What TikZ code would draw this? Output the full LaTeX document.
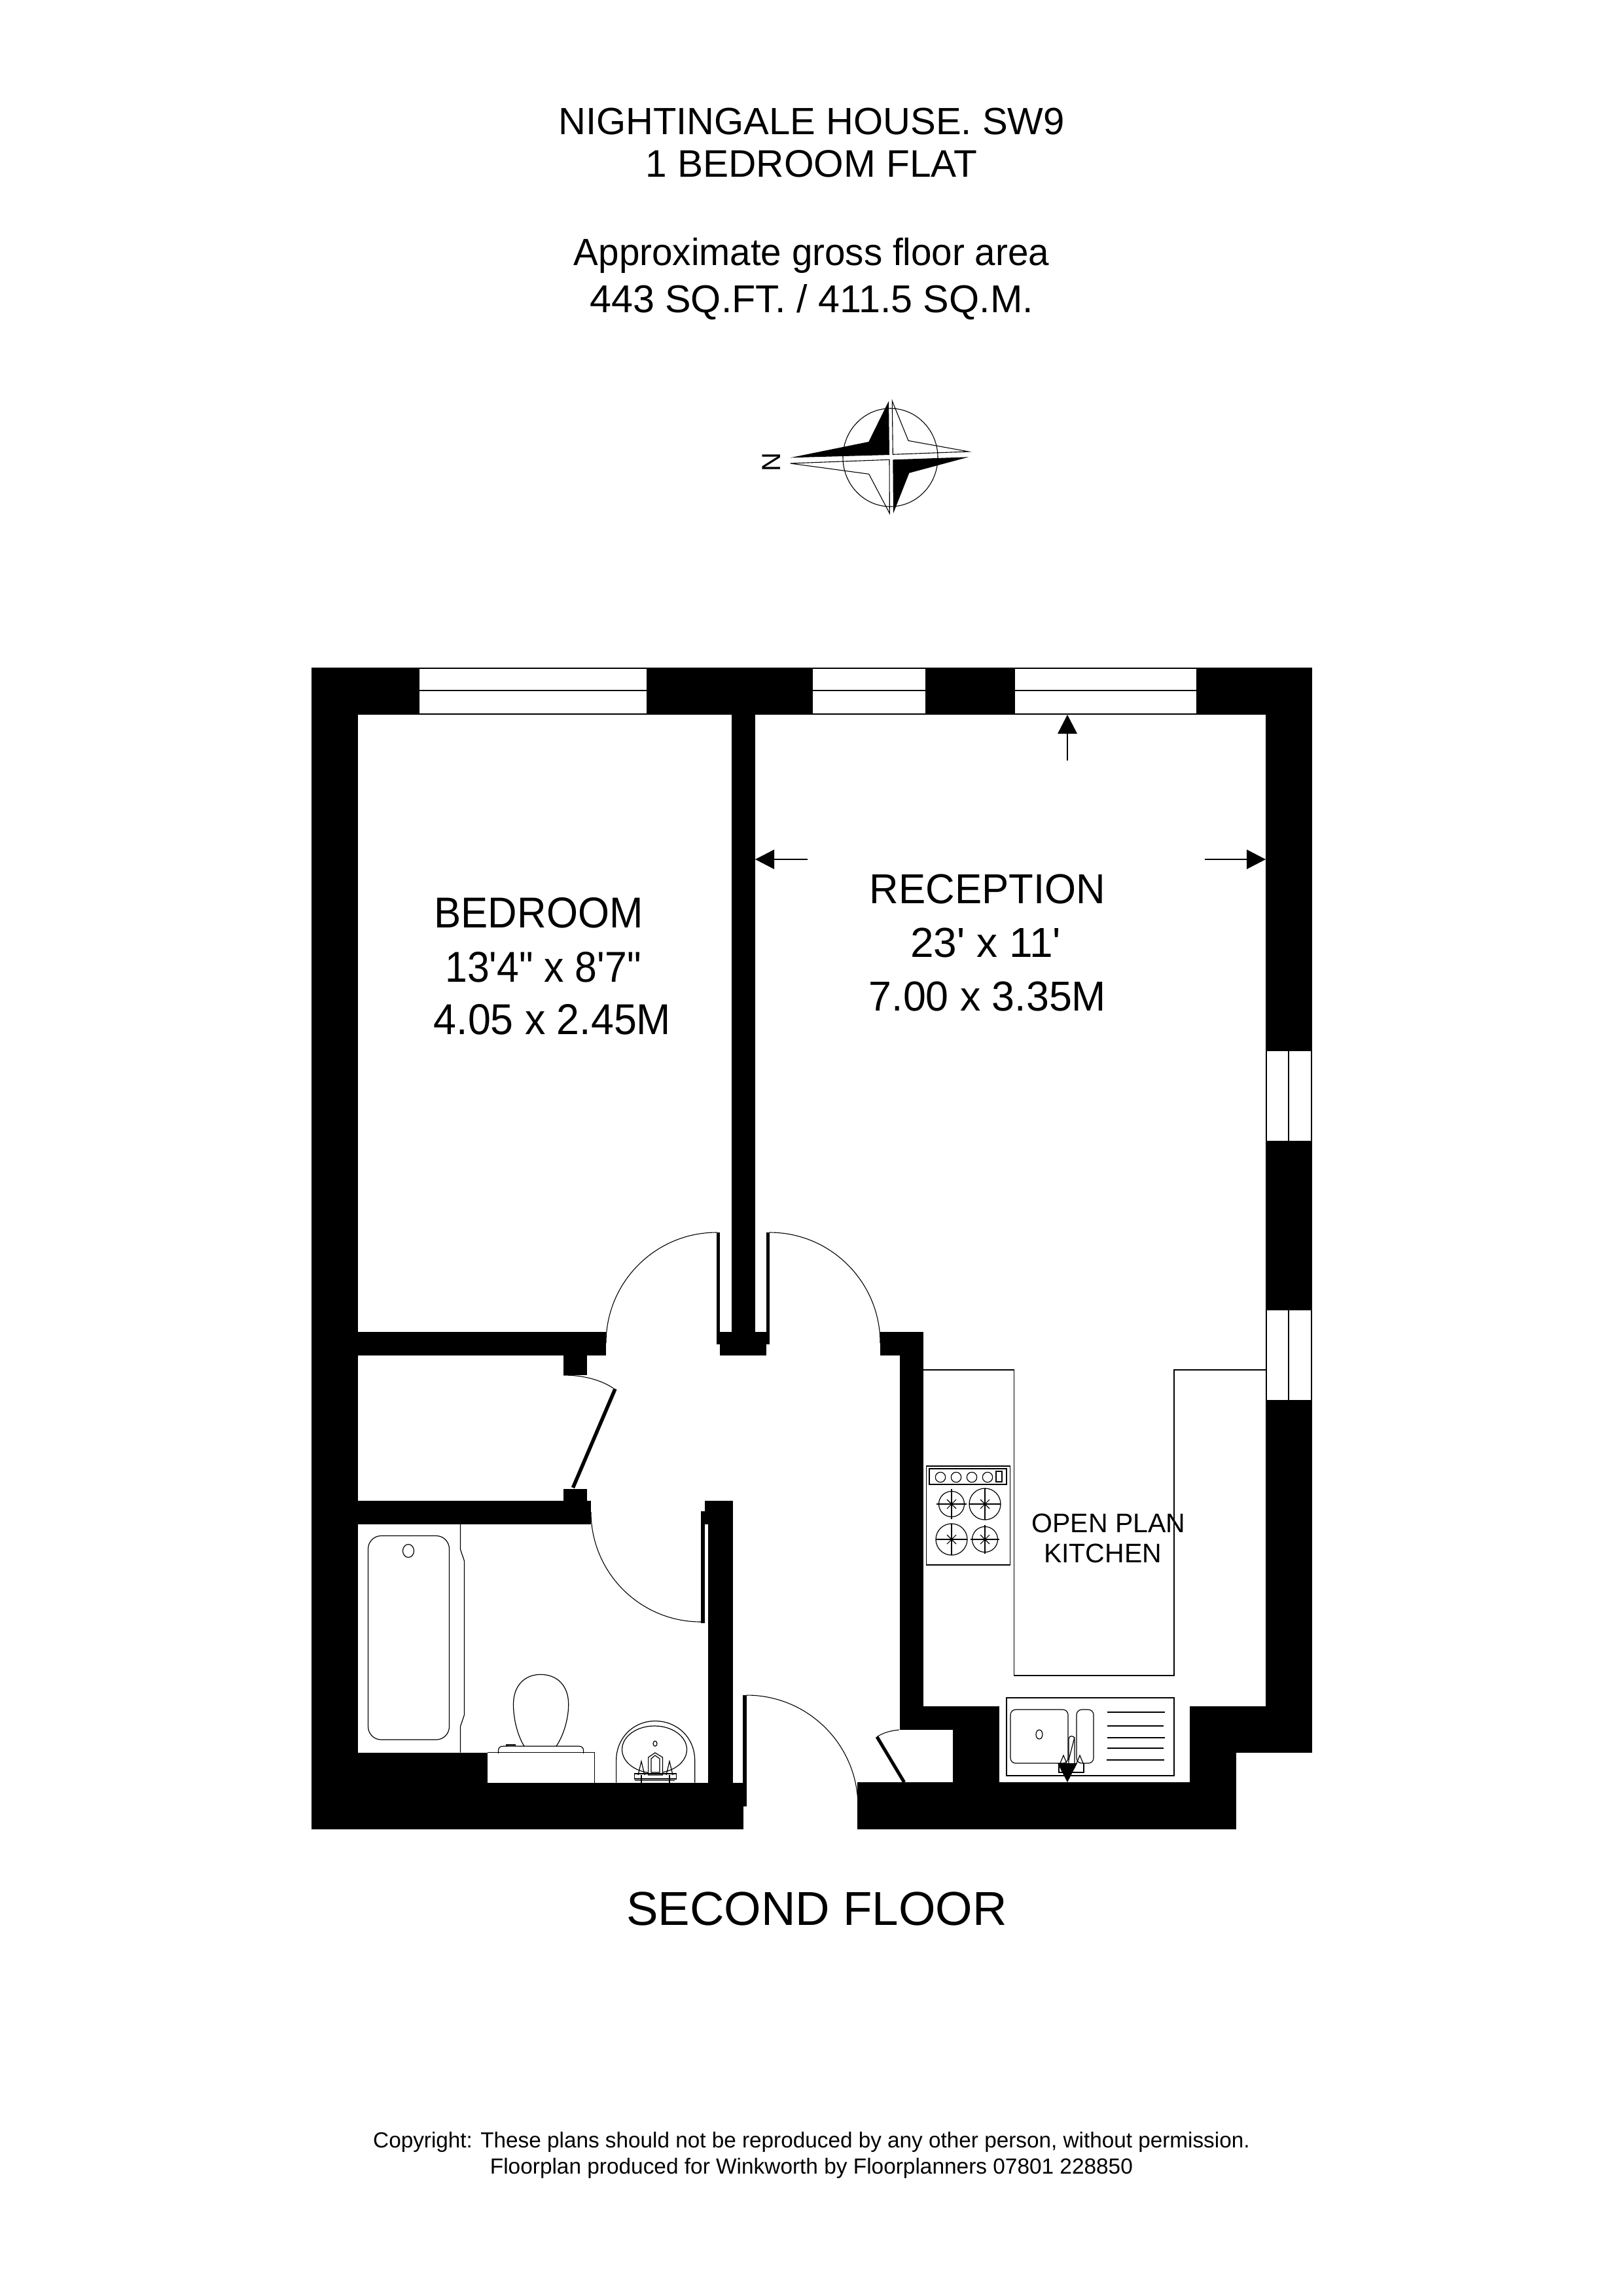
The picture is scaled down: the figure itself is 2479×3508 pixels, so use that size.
\documentclass[tikz,border=0pt]{standalone}
\usepackage{fontspec}
\setmainfont[Ligatures=TeXOff]{Liberation Sans}
\usepackage{graphicx}
\tikzset{
  wall/.style={fill=black},
  thinline/.style={draw=black,line width=1.1pt},
  glazing/.style={draw=black,fill=white,line width=1.7pt},
  fixture/.style={draw=black,line width=1.2pt},
  label/.style={inner sep=0pt,outer sep=0pt,anchor=base,black},
}
\newcommand{\fsz}[1]{\fontsize{#1}{#1}\selectfont}
\begin{document}
\begin{tikzpicture}[x=1pt,y=-1pt]
\useasboundingbox (0,0) rectangle (2479,3508);
\fill[white] (0,0) rectangle (2479,3508);
% titles
\node[label] (title1) at (1240,206) {\fsz{58}NIGHTINGALE HOUSE. SW9};
\node[label] (title2) at (1240,271) {\fsz{58.6}1 BEDROOM FLAT};
\node[label] (title3) at (1240,405) {\fsz{58}\scalebox{0.975}[1]{Approximate gross floor area}};
\node[label] (title4) at (1240,477) {\fsz{59.3}443 SQ.FT. / 411.5 SQ.M.};
% compass
\node[label,rotate=90,anchor=center] (northmark) at (1179,706) {\fsz{40}N};
\draw[thinline] (1360.5,699) ellipse [x radius=72.5,y radius=75];
\fill[wall] (1358,612.7) -- (1327.3,675) -- (1207.7,699.3) -- (1359,695) -- cycle;
\fill[wall] (1480,698.3) -- (1389.3,722.7) -- (1365,784.3) -- (1364.3,702.3) -- cycle;
\draw[thinline] (1363.3,612.7) -- (1388,673.3) -- (1480,690) -- (1364.3,694.3) -- cycle;
\draw[thinline] (1207.7,708) -- (1327.7,724.3) -- (1359.3,784.3) -- (1359,702.3) -- cycle;
% door swings
\draw[thinline] (1095,1883) .. controls (1001.7,1883) and (926,1958.7) .. (926,2052);
\draw[thinline] (1176,1883) .. controls (1269.3,1883) and (1345,1958.7) .. (1345,2052);
\draw[thinline] (903,2310) .. controls (903,2402.8) and (978.2,2478) .. (1071,2478);
\draw[thinline] (1141,2590) .. controls (1234.9,2590) and (1311,2666.1) .. (1311,2760);
\draw[thinline] (861,2101) .. controls (890,2101) and (918,2108) .. (937,2121);
\draw[thinline] (1340,2653.6) .. controls (1350,2647) and (1362,2644) .. (1374,2643);
% kitchen counter
\draw[fixture] (1410,2093) -- (1549.5,2093) -- (1549.5,2560) -- (1794,2560) -- (1794,2093) -- (1934,2093);
% walls
\fill[wall] (476,1020) rectangle (547,2795);
\fill[wall] (476,1020) rectangle (2005,1092);
\fill[wall] (1934,1020) rectangle (2005,2677.5);
\fill[wall] (1818,2607) rectangle (2005,2677.5);
\fill[wall] (1818,2607) rectangle (1889,2795);
\fill[wall] (1310,2723) rectangle (1889,2795);
\fill[wall] (1456,2607) rectangle (1527,2723);
\fill[wall] (1374.5,2035) rectangle (1410.5,2643);
\fill[wall] (1374.5,2607) rectangle (1527,2643);
\fill[wall] (1345,2035) rectangle (1411,2071);
\fill[wall] (1118,1020) rectangle (1154,2054);
\fill[wall] (1095.4,2035) rectangle (1176.4,2054);
\fill[wall] (1100.4,2054) rectangle (1171.4,2071);
\fill[wall] (1095.4,1883) rectangle (1100.4,2035);
\fill[wall] (1171.2,1883) rectangle (1176.4,2035);
\fill[wall] (476,2035) rectangle (926,2071);
\fill[wall] (861,2071) rectangle (897,2101);
\fill[wall] (476,2292.5) rectangle (903,2328.5);
\fill[wall] (861,2274.5) rectangle (897,2292.5);
\fill[wall] (1082,2292.5) rectangle (1119.5,2723.6);
\fill[wall] (1077,2292.5) rectangle (1119.5,2328.5);
\fill[wall] (1071,2309) rectangle (1082,2328.5);
\fill[wall] (1071,2309) rectangle (1077,2480);
\fill[wall] (476,2677.6) rectangle (745,2795);
\fill[wall] (476,2723.6) rectangle (1136,2795);
\fill[wall] (1135,2589.5) rectangle (1141,2759.6);
% thick door leaves
\draw[black,line width=5.5pt] (875.5,2273) -- (940,2122);
\draw[black,line width=5pt] (1340,2653.6) -- (1381.6,2723);
% windows
\foreach \xa/\xb in {640/989,1241/1415,1550/1829}{
  \draw[glazing] (\xa,1020.8) rectangle (\xb,1091.2);
  \draw[glazing] (\xa,1055) -- (\xb,1055);
}
\foreach \ya/\yb in {1605/1744,2001/2140}{
  \draw[glazing] (1934.8,\ya) rectangle (2004.2,\yb);
  \draw[glazing] (1969,\ya) -- (1969,\yb);
}
% dimension arrows
\fill[wall] (1631,1092) -- (1616,1121) -- (1646,1121) -- cycle;
\draw[thinline] (1631,1121) -- (1631,1162);
\fill[wall] (1154,1313) -- (1183,1298) -- (1183,1328) -- cycle;
\draw[fixture] (1183,1313) -- (1234,1313);
\fill[wall] (1934,1313) -- (1905,1298) -- (1905,1328) -- cycle;
\draw[fixture] (1905,1313) -- (1841,1313);
% bath
\draw[fixture] (703.4,2328) -- (703.4,2367) -- (709.5,2385) -- (709.5,2620) -- (703.4,2638) -- (703.4,2677.6);
\draw[fixture,rounded corners=20pt] (562.5,2346.5) rectangle (686.5,2658);
\draw[fixture] (624,2369.5) ellipse [x radius=8.5,y radius=10];
% wc
\draw[fixture] (745,2677.6) -- (908.5,2677.6) -- (908.5,2723.6);
\draw[fixture] (801,2668) .. controls (790,2650) and (784.5,2625) .. (784.5,2604) .. controls (784.5,2575) and (802,2558.4) .. (826,2558.4) .. controls (851,2558.4) and (868.7,2575) .. (868.7,2604) .. controls (868.7,2625) and (862,2650) .. (850,2668);
\draw[fixture] (761.5,2679) -- (761.5,2675) .. controls (761.5,2670) and (764,2668) .. (769,2668) -- (884,2668) .. controls (889,2668) and (891.6,2670) .. (891.6,2675) -- (891.6,2679);
\draw[fixture] (774,2668) -- (774,2666) -- (787.5,2666) -- (787.5,2668);
% basin
\draw[fixture] (941.6,2723.6) -- (941.6,2690) .. controls (941.6,2655) and (968,2629.5) .. (1001,2629.5) .. controls (1035,2629.5) and (1061.7,2655) .. (1061.7,2690) -- (1061.7,2723.6);
\draw[fixture] (1000,2673) ellipse [x radius=49.5,y radius=36];
\draw[fixture] (1001,2664) ellipse [x radius=3,y radius=4];
\draw[fixture,fill=white] (990.6,2712) -- (990.6,2685) -- (1001,2678) -- (1012.5,2685) -- (1012.5,2712) -- cycle;
\draw[fixture] (995,2708) -- (995,2687) -- (1001,2682) -- (1008,2687) -- (1008,2708) -- cycle;
\draw[fixture] (969.7,2710) rectangle (1033.5,2718);
\draw[fixture] (969.7,2720.5) -- (1031,2720.5);
\draw[fixture] (975,2712) -- (980,2691) -- (985,2712);
\draw[fixture] (1018,2712) -- (1023,2691) -- (1028,2712);
\draw[fixture] (980,2712) -- (980,2723.6);
\draw[fixture] (1023,2712) -- (1023,2723.6);
% oven
\draw[fixture] (1415.3,2240) rectangle (1543.7,2391);
\draw[fixture] (1420,2244) rectangle (1538,2268);
\foreach \kx in {1437,1461,1485,1509}{\draw[fixture] (\kx,2257) circle (7.7);}
\draw[fixture] (1522,2248) rectangle (1531,2264);
\foreach \bx/\by/\br/\bc in {1454/2298/19.5/23,1505/2298/24/24,1454/2352/24/24,1505/2352/19.5/22}{
  \draw[fixture] (\bx,\by) circle (\br);
  \draw[fixture] (\bx-\bc,\by) -- (\bx+\bc,\by);
  \draw[fixture] (\bx,\by-\bc) -- (\bx,\by+\bc);
  \draw[thinline] (\bx-7,\by-7) -- (\bx+7,\by+7);
  \draw[thinline] (\bx-7,\by+7) -- (\bx+7,\by-7);
}
% sink
\draw[fixture] (1538,2594) rectangle (1794,2713);
\draw[fixture,rounded corners=8pt] (1544,2612) rectangle (1632,2694);
\draw[fixture,rounded corners=8pt] (1645,2612) rectangle (1671,2694);
\draw[fixture] (1588,2650) ellipse [x radius=5,y radius=7];
\foreach \lya/\lxa/\lxb in {2616/1692/1780,2637/1692/1778,2655/1692/1780,2671/1692/1778,2689/1691/1779}{
  \draw[fixture] (\lxa,\lya) -- (\lxb,\lya);
}
\draw[fixture] (1633,2694) -- (1633,2657) .. controls (1633,2651) and (1642,2651) .. (1642,2657) -- (1642,2694);
\draw[fixture] (1642,2654) -- (1633,2689);
\draw[fixture] (1620,2694) -- (1625,2682) -- (1630,2694);
\draw[fixture] (1645,2694) -- (1650,2682) -- (1655,2694);
\draw[fixture] (1618,2694) -- (1618,2708) -- (1656,2708) -- (1656,2694);
\fill[wall] (1631,2723) -- (1616,2694) -- (1646,2694) -- cycle;
% room labels
\node[label] (bed1) at (823,1417) {\fsz{66}\scalebox{0.935}[1]{BEDROOM}};
\node[label] (bed2) at (830,1500) {\fsz{66}\scalebox{0.92}[1]{13'4" x 8'7"}};
\node[label] (bed3) at (844,1580) {\fsz{66}\scalebox{0.95}[1]{4.05 x 2.45M}};
\node[label] (rec1) at (1509,1380) {\fsz{64}\scalebox{0.965}[1]{RECEPTION}};
\node[label] (rec2) at (1506,1462) {\fsz{64}\scalebox{1}[1]{23' x 11'}};
\node[label] (rec3) at (1509,1544) {\fsz{64}\scalebox{0.98}[1]{7.00 x 3.35M}};
\node[label] (kit1) at (1694,2341) {\fsz{41}OPEN PLAN};
\node[label] (kit2) at (1685,2387) {\fsz{41}KITCHEN};
\node[label] (floor) at (1248,2941) {\fsz{72.7}SECOND FLOOR};
\node[label] (copy1) at (1240,3281) {\fsz{33.3}Copyright: These plans should not be reproduced by any other person, without permission.};
\node[label] (copy2) at (1240,3321) {\fsz{33.4}Floorplan produced for Winkworth by Floorplanners 07801 228850};
\end{tikzpicture}
\end{document}
